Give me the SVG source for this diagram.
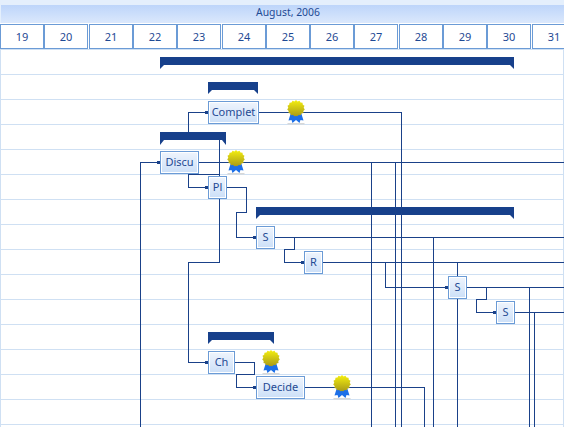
<svg xmlns="http://www.w3.org/2000/svg" width="564" height="427" viewBox="0 0 564 427">
<style>
text{font-family:"Noto Sans","DejaVu Sans",sans-serif;font-size:11px;fill:#1f4a94;text-anchor:middle}
.grid{stroke:#cfe0f3;stroke-width:1;fill:none}
.day{fill:#fff;stroke:#6b9bd6;stroke-width:1}
.node{fill:url(#nodeFill);stroke:#6b9bd6;stroke-width:1}
.inner{fill:none;stroke:#fff;stroke-width:1}
.conn{fill:none;stroke:#1a4189;stroke-width:1}
.dot{fill:#1a4189}
.bar{fill:#17408b}
</style>
<defs>
<linearGradient id="headFill" x1="0" y1="0" x2="0" y2="1"><stop offset="0" stop-color="#bdd5fa"/><stop offset="1" stop-color="#dbe8fc"/></linearGradient>
<linearGradient id="nodeFill" x1="0" y1="0" x2="0" y2="1"><stop offset="0" stop-color="#f0f5fd"/><stop offset="1" stop-color="#cbdff8"/></linearGradient>
<linearGradient id="gold" x1="0" y1="0" x2="0" y2="1"><stop offset="0" stop-color="#f6f00e"/><stop offset="1" stop-color="#a89a18"/></linearGradient>
<symbol id="badge" width="20" height="26" viewBox="0 0 20 26" overflow="visible">
<rect x="1.500" y="23.500" width="17" height="1.500" fill="#d8d8d8"/>
<path d="M5 13L2.500 21L5.500 20.500L6.500 23.500L10 20.500L13.500 23.500L14.500 20.500L17.500 21L15 13Z" fill="#1c6fe8"/>
<path d="M10 0.500L11.500 2L13.500 1.300L14.500 3L16.500 3.200L16.800 5.200L18.500 6.300L17.700 8.200L18.800 10L17.300 11.400L17.500 13.400L15.500 14L14.700 15.800L12.700 15.500L11.200 16.800L10 16.500L8.500 16.800L7 15.500L5 15.800L4.300 14L2.500 13.400L2.700 11.400L1.200 10L2.300 8.200L1.500 6.300L3.200 5.200L3.500 3.200L5.500 3L6.500 1.300L8.500 2Z" fill="url(#gold)"/>
</symbol>
</defs>
<rect width="564" height="427" fill="#fff"/>
<g id="grid">
<path class="grid" d="M0 49.500H564M0 74.500H564M0 99.500H564M0 124.500H564M0 149.500H564M0 174.500H564M0 199.500H564M0 224.500H564M0 249.500H564M0 274.500H564M0 299.500H564M0 324.500H564M0 349.500H564M0 374.500H564M0 399.500H564M0 424.500H564M0.500 49V427M563.500 49V427"/>
</g>
<g id="header">
<rect width="564" height="23" fill="#e4effc"/>
<rect x="1" y="5" width="563" height="18" fill="url(#headFill)"/>
<text x="288" y="16" style="font-size:10.400px">August, 2006</text>
</g>
<g id="days">
<rect class="day" x="0.500" y="24.500" width="43" height="24"/><text x="22" y="41">19</text>
<rect class="day" x="44.500" y="24.500" width="43" height="24"/><text x="66" y="41">20</text>
<rect class="day" x="89.500" y="24.500" width="43" height="24"/><text x="111" y="41">21</text>
<rect class="day" x="133.500" y="24.500" width="43" height="24"/><text x="155" y="41">22</text>
<rect class="day" x="177.500" y="24.500" width="43" height="24"/><text x="199" y="41">23</text>
<rect class="day" x="222.500" y="24.500" width="43" height="24"/><text x="244" y="41">24</text>
<rect class="day" x="266.500" y="24.500" width="43" height="24"/><text x="288" y="41">25</text>
<rect class="day" x="310.500" y="24.500" width="43" height="24"/><text x="332" y="41">26</text>
<rect class="day" x="354.500" y="24.500" width="43" height="24"/><text x="376" y="41">27</text>
<rect class="day" x="399.500" y="24.500" width="43" height="24"/><text x="421" y="41">28</text>
<rect class="day" x="443.500" y="24.500" width="43" height="24"/><text x="465" y="41">29</text>
<rect class="day" x="487.500" y="24.500" width="43" height="24"/><text x="509" y="41">30</text>
<rect class="day" x="532.500" y="24.500" width="43" height="24"/><text x="554" y="41">31</text>
</g>
<g id="summaries">
<path class="bar" d="M160 57H514V69L510 65H164L160 69Z"/>
<path class="bar" d="M208 82H258V94L254 90H212L208 94Z"/>
<path class="bar" d="M160 132H226V145L222 140H164L160 145Z"/>
<path class="bar" d="M256 207H514V219L510 215H260L256 219Z"/>
<path class="bar" d="M208 332H274V344L270 340H212L208 344Z"/>
</g>
<g id="connectors" shape-rendering="crispEdges">
<path class="conn" d="M188.500 132V112.500H208"/>
<path class="conn" d="M258 112.500H401.500V427"/>
<path class="conn" d="M198 162.500H564"/>
<path class="conn" d="M140.500 427V162.500H160"/>
<path class="conn" d="M188.500 173V187.500H208"/>
<path class="conn" d="M188.500 174.500H219.500"/>
<path class="conn" d="M219.500 139V262.500H188.500V362.500H208"/>
<path class="conn" d="M226 187.500H246.500V212.500H236.500V237.500H256"/>
<path class="conn" d="M274 237.500H564"/>
<path class="conn" d="M294.500 237.500V249.500H284.500V262.500H304"/>
<path class="conn" d="M322 262.500H564"/>
<path class="conn" d="M385.500 262.500V287.500H448"/>
<path class="conn" d="M457.500 262.500V427"/>
<path class="conn" d="M466 287.500H564"/>
<path class="conn" d="M486.500 287.500V299.500H476.500V312.500H496"/>
<path class="conn" d="M529.500 287.500V427"/>
<path class="conn" d="M514 312.500H564"/>
<path class="conn" d="M534.500 312.500V427"/>
<path class="conn" d="M371.500 162.500V427"/>
<path class="conn" d="M395.500 162.500V427"/>
<path class="conn" d="M433.500 237.500V427"/>
<path class="conn" d="M234 362.500H254.500V374.500H236.500V387.500H256"/>
<path class="conn" d="M304 387.500H424.500V427"/>
<rect class="dot" x="205" y="111" width="3" height="3"/>
<rect class="dot" x="157" y="161" width="3" height="3"/>
<rect class="dot" x="205" y="186" width="3" height="3"/>
<rect class="dot" x="253" y="236" width="3" height="3"/>
<rect class="dot" x="301" y="261" width="3" height="3"/>
<rect class="dot" x="445" y="286" width="3" height="3"/>
<rect class="dot" x="493" y="311" width="3" height="3"/>
<rect class="dot" x="205" y="361" width="3" height="3"/>
<rect class="dot" x="253" y="386" width="3" height="3"/>
</g>
<g id="node-complet"><rect class="node" x="208.500" y="101.500" width="50" height="22"/><rect class="inner" x="209.500" y="102.500" width="48" height="20"/><text x="233.500" y="116">Complet</text></g>
<g id="node-discu"><rect class="node" x="160.500" y="151.500" width="38" height="22"/><rect class="inner" x="161.500" y="152.500" width="36" height="20"/><text x="179.500" y="166">Discu</text></g>
<g id="node-pl"><rect class="node" x="208.500" y="176.500" width="18" height="22"/><rect class="inner" x="209.500" y="177.500" width="16" height="20"/><text x="217.500" y="191">Pl</text></g>
<g id="node-s1"><rect class="node" x="256.500" y="226.500" width="18" height="22"/><rect class="inner" x="257.500" y="227.500" width="16" height="20"/><text x="265.500" y="241">S</text></g>
<g id="node-r"><rect class="node" x="304.500" y="251.500" width="18" height="22"/><rect class="inner" x="305.500" y="252.500" width="16" height="20"/><text x="313.500" y="266">R</text></g>
<g id="node-s2"><rect class="node" x="448.500" y="276.500" width="18" height="22"/><rect class="inner" x="449.500" y="277.500" width="16" height="20"/><text x="457.500" y="291">S</text></g>
<g id="node-s3"><rect class="node" x="496.500" y="301.500" width="18" height="22"/><rect class="inner" x="497.500" y="302.500" width="16" height="20"/><text x="505.500" y="316">S</text></g>
<g id="node-ch"><rect class="node" x="208.500" y="351.500" width="26" height="22"/><rect class="inner" x="209.500" y="352.500" width="24" height="20"/><text x="221.500" y="366">Ch</text></g>
<g id="node-decide"><rect class="node" x="256.500" y="376.500" width="48" height="22"/><rect class="inner" x="257.500" y="377.500" width="46" height="20"/><text x="280.500" y="391">Decide</text></g>
<g id="badges">
<use href="#badge" x="286" y="99.500" width="20" height="26"/>
<use href="#badge" x="226" y="149.500" width="20" height="26"/>
<use href="#badge" x="261" y="349.500" width="20" height="26"/>
<use href="#badge" x="332" y="374.500" width="20" height="26"/>
</g>
</svg>
